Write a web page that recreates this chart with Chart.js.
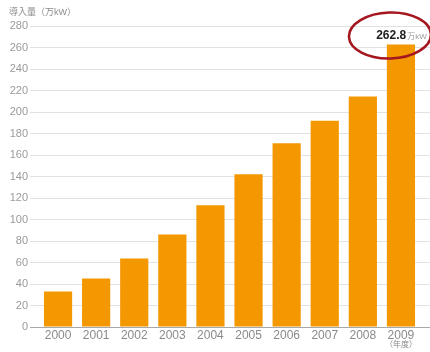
<!DOCTYPE html>
<html>
<head>
<meta charset="utf-8">
<script src="https://cdn.jsdelivr.net/npm/chart.js@4/dist/chart.umd.min.js"></script>
<style>
  html, body { margin: 0; padding: 0; background: #fff; }
  #wrap { width: 430px; height: 352px; }
</style>
</head>
<body>
<div id="wrap"><canvas id="chart1"></canvas></div>
<script>
// 太陽光発電 導入量の推移
const years = ['2000', '2001', '2002', '2003', '2004', '2005', '2006', '2007', '2008', '2009'];
const amounts = [33.0, 45.2, 63.7, 86.0, 113.2, 142.2, 170.9, 191.9, 214.4, 262.8];
const yTicks = [0, 20, 40, 60, 80, 100, 120, 140, 160, 180, 200, 220, 240, 260, 280];
const unitTitle = '導入量（万kW）';
const yearNote = '（年度）';
const valueUnit = '万kW';

const jp = '"Liberation Sans", "Noto Sans CJK JP", sans-serif';
const gridCol = ctx => ctx.tick && ctx.tick.value === 0 ? '#a8a8a8' : '#e2e2e2';

// タイトル・年度注記・最新値の丸囲み
const extras = {
  id: 'extras',
  afterDraw(chart) {
    const c = chart.ctx;
    const x = chart.scales.x;
    c.save();
    c.fillStyle = '#8a8a8a';
    c.font = '9px ' + jp;
    c.textBaseline = 'middle';
    c.textAlign = 'left';
    c.fillText(unitTitle, 9, 13);

    c.textAlign = 'center';
    c.font = '8px ' + jp;
    c.fillText(yearNote, x.getPixelForValue(years.length - 1), 345);

    const last = amounts.length - 1;
    const bar = chart.getDatasetMeta(0).data[last];
    const label = amounts[last].toFixed(1);
    c.font = 'bold 12px ' + jp;
    const w1 = c.measureText(label).width;
    c.font = '8px ' + jp;
    const w2 = c.measureText(valueUnit).width;
    const left = bar.x - (w1 + w2) / 2;
    const ty = bar.y - 9;
    c.textAlign = 'left';
    c.font = 'bold 12px ' + jp;
    c.fillStyle = '#1e1e1e';
    c.fillText(label, left, ty);
    c.font = '8px ' + jp;
    c.fillStyle = '#9a9a9a';
    c.fillText(valueUnit, left + w1 + 1, ty + 1);

    c.beginPath();
    c.ellipse(bar.x - 11, ty, 41, 23, -0.03, 0, Math.PI * 2);
    c.strokeStyle = '#a5161f';
    c.lineWidth = 2.6;
    c.stroke();
    c.restore();
  }
};

new Chart(document.getElementById('chart1'), {
  type: 'bar',
  data: {
    labels: years,
    datasets: [{
      data: amounts,
      backgroundColor: '#f39800',
      barPercentage: 0.74,
      categoryPercentage: 1.0
    }]
  },
  options: {
    responsive: true,
    maintainAspectRatio: false,
    animation: false,
    layout: { padding: { top: 26, left: 0, right: 0, bottom: 0 } },
    plugins: { legend: { display: false }, tooltip: { enabled: false } },
    scales: {
      x: {
        afterFit: s => { s.height = 25; },
        grid: { display: false, drawTicks: false },
        border: { display: false },
        ticks: { color: '#8a8a8a', font: { size: 12, family: jp }, padding: 1, maxRotation: 0 }
      },
      y: {
        min: 0, max: 280,
        afterFit: s => { s.width = 39; },
        afterBuildTicks: s => { s.ticks = yTicks.map(v => ({ value: v })); },
        grid: { color: gridCol, tickColor: gridCol, tickLength: 9, lineWidth: 1 },
        border: { display: false },
        ticks: { color: '#9a9a9a', font: { size: 11, family: jp }, padding: 2 }
      },
      y2: {
        position: 'right',
        min: 0, max: 280,
        afterFit: s => { s.width = 10; },
        afterBuildTicks: s => { s.ticks = yTicks.map(v => ({ value: v })); },
        grid: { drawOnChartArea: false, tickColor: gridCol, tickLength: 10 },
        border: { display: false },
        ticks: { display: false }
      }
    }
  },
  plugins: [extras]
});
</script>
</body>
</html>
